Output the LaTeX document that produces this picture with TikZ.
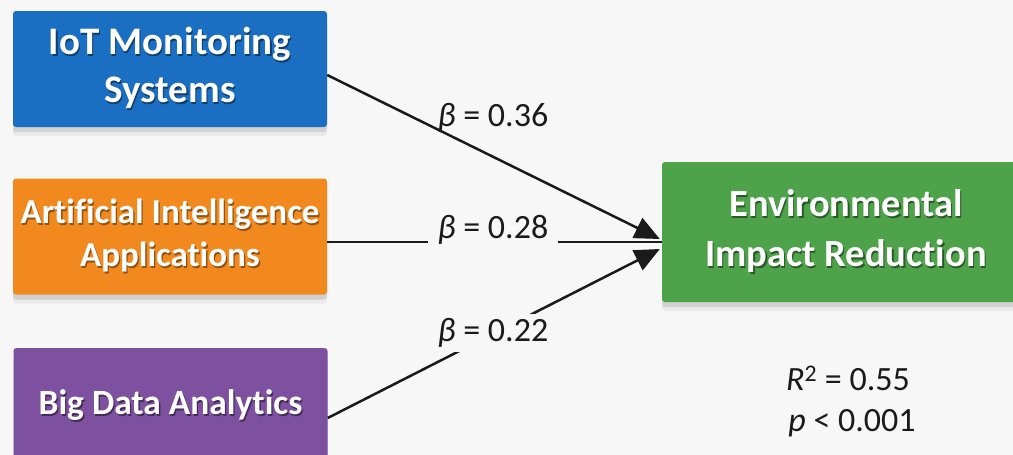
\documentclass[tikz,border=0pt]{standalone}
\usepackage{fontspec}
\setmainfont{Carlito}[Ligatures={NoCommon}]
\usetikzlibrary{arrows.meta,shadows}
\definecolor{bg}{HTML}{F7F7F7}
\definecolor{iotblue}{HTML}{1A6FC3}
\definecolor{aiorange}{HTML}{F1891E}
\definecolor{bdpurple}{HTML}{7E50A0}
\definecolor{envgreen}{HTML}{4DA24A}
\definecolor{ink}{HTML}{1A1A1A}
\newcommand{\shd}[2]{\leavevmode\rlap{\hspace{1.3pt}\raisebox{-1.3pt}{\color{#1}#2}}#2}
\tikzset{
  box/.style={rectangle, rounded corners=3pt, minimum width=314pt, minimum height=116pt,
    text=white, align=center, inner sep=0pt,
    drop shadow={shadow xshift=0pt, shadow yshift=-5pt, opacity=0.10, fill=black},
    drop shadow={shadow xshift=0pt, shadow yshift=-9pt, opacity=0.05, fill=black}},
  link/.style={draw=ink, line width=2.5pt, -{Triangle[length=25pt,width=22pt]}},
  plain/.style={draw=ink, line width=2.5pt},
  coef/.style={text=ink, font=\fontsize{34}{40}\selectfont, inner sep=0pt},
  coefbg/.style={coef, fill=bg, inner xsep=10pt, inner ysep=4pt},
}
\begin{document}
\begin{tikzpicture}[x=1pt,y=-1pt]
\useasboundingbox (0,0) rectangle (1013,455);
\clip (0,0) rectangle (1013,455);
\fill[bg] (0,0) rectangle (1013,455);

\node[box, fill=iotblue, font=\bfseries\fontsize{39}{48}\selectfont] (iot) at (170,69)
  {\shd{iotblue!55!black}{IoT Monitoring}\\\shd{iotblue!55!black}{Systems}};
\node[box, fill=aiorange, font=\bfseries\fontsize{35}{43}\selectfont] (ai) at (170,236.5)
  {\shd{aiorange!60!black}{Artificial Intelligence}\\\shd{aiorange!60!black}{Applications}};
\node[box, fill=bdpurple, font=\bfseries\fontsize{35.4}{42}\selectfont] (bd) at (170.5,406)
  {\raisebox{5pt}{\shd{bdpurple!55!black}{Big Data Analytics}}};
\node[box, fill=envgreen, minimum width=368pt, minimum height=140pt, font=\bfseries\fontsize{38.5}{50}\selectfont] (env) at (846,232)
  {\shd{envgreen!55!black}{Environmental}\\\shd{envgreen!55!black}{Impact Reduction}};

\draw[plain] ([yshift=-5.5pt]ai.east) -- ([yshift=-10pt]env.west);
\draw[link] ([yshift=-6pt]iot.east) -- ([xshift=-2pt,yshift=-7pt]env.west);
\draw[link] ([yshift=-12pt]bd.east) -- ([xshift=-2pt,yshift=-17pt]env.west);

\node[coef] (c1) at (493,118) {{\itshape β} = 0.36};
\node[coefbg] (c2) at (493,230) {{\itshape β} = 0.28};
\node[coefbg] (c3) at (493,333) {{\itshape β} = 0.22};

\node[coef] (r2) at (848,378) {{\itshape R}\textsuperscript{2} = 0.55};
\node[coef] (pv) at (852,423) {{\itshape p} < 0.001};
\end{tikzpicture}
\end{document}
